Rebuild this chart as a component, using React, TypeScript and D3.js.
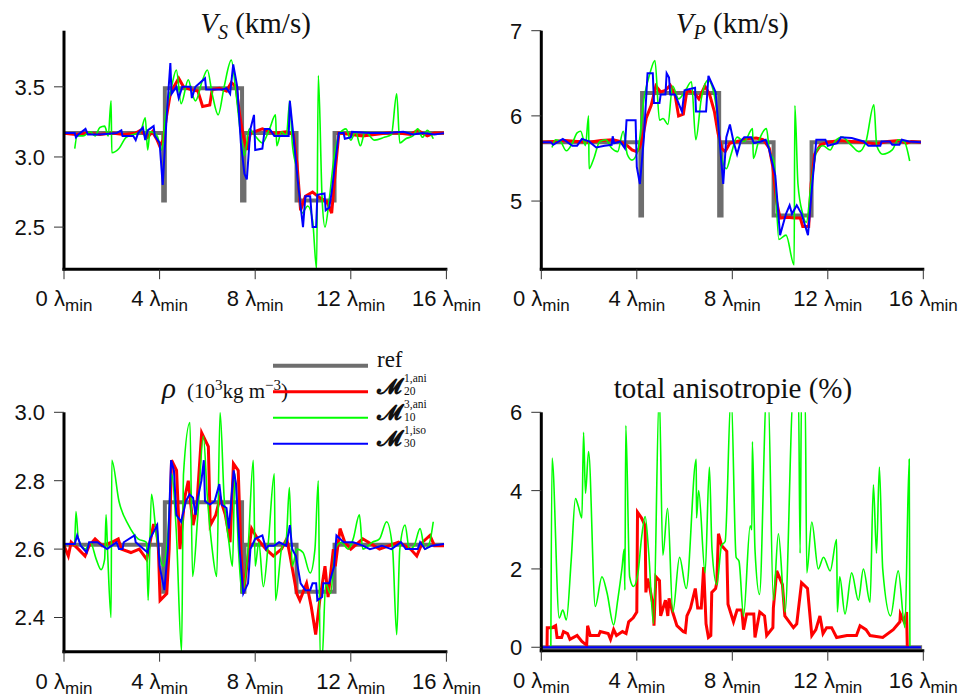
import React from 'react';
import * as d3 from 'd3';

type Pt = [number, number];

// ---------- DATA ----------
const xTicks = [0, 4, 8, 12, 16];
const xTickLabels = ['0', '4', '8', '12', '16'];

const refX = [0, 4.15, 4.22, 7.45, 7.55, 9.73, 11.32, 15.9];
const vsRefY = [3.17, 2.69, 3.49, 2.69, 3.17, 2.69, 3.17, 3.17];
const vpRefY = [5.69, 4.83, 6.27, 4.83, 5.69, 4.83, 5.69, 5.69];
const rhoRefY = [2.613, 2.475, 2.737, 2.475, 2.613, 2.475, 2.613, 2.613];
const anisoRefX = [0, 15.95];
const anisoRefY = [0, 0];

const vsRed: Pt[] = [[0,3.17],[0.5,3.16],[1.0,3.17],[1.5,3.16],[2.0,3.17],[2.5,3.16],[3.0,3.17],[3.2,3.19],[3.5,3.14],[3.7,3.18],[3.9,3.12],[4.0,3.08],[4.15,3.12],[4.3,3.3],[4.45,3.45],[4.6,3.5],[4.8,3.56],[5.0,3.5],[5.3,3.48],[5.6,3.47],[5.8,3.36],[6.1,3.37],[6.2,3.48],[6.5,3.49],[6.8,3.47],[7.0,3.53],[7.2,3.5],[7.35,3.3],[7.5,3.15],[7.65,3.05],[7.8,3.17],[8.3,3.2],[8.8,3.17],[9.3,3.18],[9.6,3.16],[9.75,2.95],[9.9,2.62],[10.1,2.72],[10.4,2.75],[10.7,2.71],[11.0,2.68],[11.2,2.6],[11.35,2.9],[11.5,3.17],[12,3.16],[12.5,3.15],[13,3.16],[13.5,3.17],[14,3.17],[14.5,3.16],[14.8,3.19],[15.2,3.15],[15.5,3.17],[15.9,3.17]];
const vsGreen: Pt[] = [[0.45,3.06],[0.55,3.15],[0.8,3.15],[1.1,3.18],[1.3,3.15],[1.5,3.21],[1.7,3.22],[1.85,3.15],[1.97,3.4],[2.0,3.03],[2.3,3.06],[2.6,3.14],[2.9,3.16],[3.2,3.18],[3.4,3.28],[3.5,3.05],[3.6,3.18],[3.9,3.15],[4.08,3.05],[4.25,3.3],[4.5,3.5],[4.7,3.62],[4.9,3.38],[5.2,3.55],[5.35,3.46],[5.5,3.4],[5.8,3.55],[6.0,3.62],[6.2,3.45],[6.45,3.3],[6.7,3.5],[7.0,3.69],[7.2,3.45],[7.4,3.15],[7.55,3.01],[7.75,3.2],[8.0,3.15],[8.3,3.1],[8.6,3.2],[8.85,3.3],[8.9,3.08],[9.1,3.18],[9.3,3.15],[9.45,3.4],[9.55,3.1],[9.75,2.9],[9.95,2.6],[10.2,2.65],[10.4,2.55],[10.57,2.2],[10.64,3.58],[10.8,2.7],[10.92,2.5],[11.1,2.7],[11.3,3.0],[11.55,3.17],[11.8,3.2],[12.0,3.12],[12.2,3.18],[12.4,3.08],[12.6,3.18],[13.0,3.12],[13.4,3.14],[13.7,3.16],[13.92,3.45],[14.05,3.1],[14.3,3.13],[14.6,3.15],[14.8,3.2],[15.0,3.14],[15.2,3.19],[15.45,3.13]];
const vsBlue: Pt[] = [[0,3.17],[0.45,3.17],[0.5,3.14],[0.6,3.16],[0.9,3.2],[1.0,3.16],[1.5,3.16],[2.2,3.17],[2.4,3.19],[2.45,3.15],[2.9,3.15],[3.0,3.12],[3.1,3.17],[3.3,3.21],[3.4,3.12],[3.5,3.19],[3.75,3.22],[3.8,3.15],[4.0,3.1],[4.13,2.8],[4.3,3.3],[4.45,3.67],[4.5,3.45],[4.7,3.5],[4.8,3.42],[4.95,3.5],[5.3,3.5],[5.35,3.42],[5.5,3.5],[5.9,3.56],[5.95,3.48],[6.6,3.48],[6.8,3.49],[6.95,3.45],[7.08,3.66],[7.25,3.5],[7.4,3.1],[7.55,2.88],[7.65,2.84],[7.8,3.2],[7.95,3.3],[8.0,3.05],[8.3,3.06],[8.4,3.2],[8.6,3.2],[8.8,3.15],[9.4,3.15],[9.45,3.4],[9.6,3.15],[9.8,2.8],[10.0,2.5],[10.1,2.72],[10.3,2.72],[10.4,2.5],[10.55,2.5],[10.6,2.73],[10.9,2.74],[10.95,2.62],[11.1,2.64],[11.2,2.75],[11.5,3.17],[11.7,3.17],[11.75,3.13],[12.0,3.14],[12.05,3.18],[12.8,3.17],[13.5,3.17],[14.2,3.18],[14.6,3.16],[15.0,3.17],[15.5,3.16],[15.9,3.17]];

const vpRed: Pt[] = [[0,5.69],[0.5,5.7],[1.0,5.71],[1.5,5.7],[2.0,5.69],[2.5,5.71],[3.0,5.72],[3.3,5.7],[3.6,5.65],[3.8,5.6],[4.0,5.58],[4.1,5.62],[4.25,5.75],[4.4,5.98],[4.6,6.12],[4.8,6.35],[5.0,6.28],[5.2,6.3],[5.4,6.36],[5.6,6.25],[5.75,6.0],[5.95,6.02],[6.1,6.3],[6.4,6.27],[6.6,6.2],[6.85,6.35],[7.05,6.25],[7.25,6.05],[7.4,5.8],[7.55,5.62],[7.7,5.58],[7.9,5.68],[8.2,5.7],[8.6,5.73],[9.0,5.74],[9.3,5.72],[9.55,5.62],[9.7,5.4],[9.85,5.0],[10.0,4.8],[10.3,4.81],[10.6,4.8],[10.85,4.8],[10.95,4.7],[11.2,4.7],[11.3,5.2],[11.45,5.55],[11.7,5.66],[12.0,5.69],[12.5,5.71],[13.0,5.7],[13.5,5.69],[14.0,5.67],[14.5,5.7],[15.0,5.71],[15.3,5.68],[15.5,5.7],[15.9,5.69]];
const vpGreen: Pt[] = [[0.45,5.63],[0.6,5.72],[0.8,5.7],[1.05,5.59],[1.3,5.68],[1.5,5.8],[1.65,5.82],[1.85,5.65],[1.98,6.0],[2.0,5.38],[2.2,5.5],[2.45,5.7],[2.7,5.72],[2.95,5.62],[3.2,5.58],[3.43,5.82],[3.6,5.55],[3.8,5.48],[4.05,5.6],[4.3,6.2],[4.55,6.5],[4.76,6.65],[4.95,5.95],[5.1,5.97],[5.3,5.9],[5.5,6.35],[5.75,6.2],[6.0,6.28],[6.29,6.4],[6.47,5.72],[6.7,6.2],[6.99,6.42],[7.15,6.35],[7.35,6.05],[7.5,5.6],[7.75,5.38],[7.95,5.55],[8.2,5.75],[8.5,5.7],[8.85,5.85],[8.88,5.5],[9.1,5.7],[9.43,5.85],[9.55,5.6],[9.75,5.45],[9.95,4.55],[10.25,4.6],[10.59,4.25],[10.62,6.12],[10.75,5.2],[10.95,4.85],[11.1,4.75],[11.3,5.2],[11.55,5.6],[11.8,5.65],[12.1,5.6],[12.3,5.7],[12.6,5.75],[13.0,5.65],[13.3,5.58],[13.6,5.7],[13.93,6.13],[14.05,5.65],[14.3,5.55],[14.7,5.6],[14.95,5.72],[15.2,5.7],[15.43,5.47]];
const vpBlue: Pt[] = [[0,5.69],[0.4,5.69],[0.5,5.66],[0.9,5.73],[1.05,5.7],[1.3,5.65],[1.5,5.65],[1.7,5.73],[2.0,5.7],[2.3,5.63],[2.65,5.65],[2.95,5.66],[2.99,5.76],[3.05,5.68],[3.3,5.7],[3.5,5.62],[3.57,5.95],[3.95,5.95],[4.0,5.4],[4.13,5.2],[4.3,5.75],[4.45,6.5],[4.67,6.5],[4.72,6.15],[4.95,6.15],[5.0,6.25],[5.2,6.25],[5.25,6.5],[5.35,6.45],[5.4,6.25],[5.6,6.25],[5.89,6.05],[6.0,6.3],[6.44,6.33],[6.48,6.05],[6.9,6.05],[7.0,6.47],[7.3,6.28],[7.5,5.6],[7.62,5.2],[7.75,5.75],[7.9,5.9],[8.05,5.7],[8.2,5.55],[8.35,5.7],[8.5,5.75],[8.8,5.75],[8.9,5.68],[9.2,5.7],[9.4,5.72],[9.55,5.6],[9.8,5.3],[10.0,4.6],[10.25,4.85],[10.4,4.95],[10.5,4.85],[10.7,4.95],[10.9,4.85],[11.17,4.6],[11.35,5.2],[11.52,5.72],[11.9,5.72],[12.0,5.65],[12.4,5.68],[12.55,5.75],[13.0,5.74],[13.5,5.7],[13.7,5.65],[14.2,5.65],[14.25,5.7],[14.6,5.7],[14.7,5.66],[15.0,5.66],[15.1,5.72],[15.4,5.7],[15.9,5.69]];

const rhoRed: Pt[] = [[0,2.61],[0.18,2.58],[0.3,2.62],[0.6,2.6],[0.88,2.58],[1.05,2.61],[1.3,2.63],[1.6,2.61],[2.0,2.62],[2.27,2.63],[2.4,2.6],[2.8,2.59],[3.15,2.6],[3.46,2.57],[3.6,2.62],[3.74,2.67],[3.85,2.67],[3.95,2.6],[4.02,2.45],[4.3,2.47],[4.4,2.6],[4.5,2.86],[4.71,2.83],[4.85,2.6],[5.05,2.75],[5.2,2.8],[5.4,2.67],[5.55,2.72],[5.76,2.94],[6.04,2.9],[6.12,2.67],[6.35,2.7],[6.53,2.75],[6.75,2.7],[6.95,2.62],[7.09,2.85],[7.29,2.83],[7.4,2.6],[7.5,2.47],[7.65,2.55],[7.85,2.66],[8.1,2.63],[8.45,2.6],[8.76,2.58],[9.1,2.6],[9.32,2.63],[9.46,2.58],[9.74,2.47],[9.87,2.45],[10.15,2.5],[10.35,2.43],[10.53,2.35],[10.7,2.45],[10.92,2.55],[11.05,2.46],[11.27,2.6],[11.35,2.55],[11.55,2.66],[11.75,2.62],[12.0,2.6],[12.5,2.63],[13.2,2.6],[14.0,2.62],[14.5,2.6],[14.76,2.58],[15.0,2.62],[15.31,2.64],[15.5,2.61],[15.9,2.61]];
const rhoGreen: Pt[] = [[0.45,2.61],[0.5,2.71],[0.6,2.63],[0.9,2.6],[1.1,2.62],[1.35,2.57],[1.55,2.54],[1.7,2.57],[1.76,2.7],[1.82,2.6],[1.97,2.4],[2.0,2.86],[2.3,2.74],[2.7,2.67],[3.1,2.63],[3.45,2.62],[3.52,2.45],[3.66,2.76],[3.85,2.65],[4.0,2.58],[4.15,2.55],[4.35,2.65],[4.5,2.82],[4.7,2.65],[4.92,2.3],[5.0,2.82],[5.27,2.97],[5.38,2.52],[5.6,2.7],[5.83,2.93],[6.0,2.75],[6.2,2.6],[6.39,2.52],[6.53,3.0],[6.7,2.75],[6.9,2.62],[7.05,2.55],[7.15,2.82],[7.3,2.6],[7.45,2.47],[7.7,2.6],[7.92,2.86],[8.0,2.55],[8.15,2.62],[8.34,2.49],[8.55,2.62],[8.8,2.82],[8.85,2.45],[9.1,2.6],[9.3,2.63],[9.43,2.78],[9.55,2.55],[9.75,2.6],[10.0,2.59],[10.3,2.53],[10.5,2.6],[10.64,2.8],[10.72,2.28],[10.8,2.28],[10.95,2.5],[11.15,2.47],[11.35,2.6],[11.6,2.62],[11.9,2.6],[12.1,2.63],[12.36,2.7],[12.5,2.6],[12.9,2.62],[13.2,2.63],[13.5,2.68],[13.75,2.6],[13.92,2.35],[14.05,2.6],[14.27,2.67],[14.45,2.6],[14.65,2.61],[14.9,2.66],[15.1,2.6],[15.3,2.62],[15.45,2.68]];
const rhoBlue: Pt[] = [[0,2.615],[0.45,2.615],[0.55,2.64],[0.7,2.61],[0.95,2.59],[1.05,2.62],[1.4,2.62],[1.6,2.61],[1.8,2.6],[2.0,2.61],[2.2,2.62],[2.3,2.6],[2.45,2.6],[2.5,2.62],[2.95,2.64],[3.0,2.62],[3.5,2.59],[3.6,2.63],[3.9,2.67],[4.0,2.55],[4.2,2.48],[4.35,2.6],[4.48,2.86],[4.6,2.83],[4.7,2.7],[4.9,2.68],[5.1,2.74],[5.25,2.76],[5.4,2.75],[5.5,2.7],[5.6,2.75],[5.75,2.8],[5.85,2.86],[5.9,2.74],[6.1,2.73],[6.3,2.74],[6.5,2.79],[6.6,2.73],[6.8,2.72],[6.9,2.66],[7.1,2.83],[7.2,2.79],[7.35,2.6],[7.5,2.47],[7.7,2.5],[7.8,2.6],[8.0,2.63],[8.3,2.64],[8.45,2.6],[8.55,2.61],[8.8,2.61],[9.0,2.62],[9.3,2.61],[9.45,2.67],[9.55,2.6],[9.7,2.58],[9.9,2.5],[10.1,2.48],[10.3,2.48],[10.4,2.5],[10.55,2.5],[10.6,2.45],[10.8,2.46],[10.85,2.5],[11.1,2.5],[11.3,2.55],[11.4,2.64],[11.7,2.62],[12.1,2.62],[12.5,2.61],[12.8,2.6],[13.3,2.61],[13.7,2.6],[14.1,2.62],[14.3,2.6],[14.8,2.6],[14.9,2.62],[15.1,2.6],[15.4,2.61],[15.9,2.615]];

const anisoRed: Pt[] = [[0.24,0],[0.25,0.5],[0.45,0.5],[0.6,0.55],[0.66,0.25],[0.85,0.25],[0.93,0.4],[1.1,0.35],[1.2,0.2],[1.5,0.3],[1.7,0.15],[1.9,0.05],[1.94,0.55],[2.05,0.3],[2.4,0.3],[2.47,0.4],[2.8,0.35],[2.9,0.2],[3.03,0.45],[3.15,0.3],[3.4,0.4],[3.55,0.35],[3.66,0.65],[3.85,0.75],[4.0,0.9],[4.03,3.45],[4.2,3.3],[4.35,3.1],[4.38,1.4],[4.45,1.75],[4.55,1.5],[4.7,1.0],[4.72,0.55],[4.8,1.8],[4.95,1.7],[5.0,0.8],[5.2,1.2],[5.3,0.8],[5.35,1.25],[5.5,0.9],[5.68,0.55],[5.95,0.4],[6.03,0.38],[6.1,0.8],[6.25,1.0],[6.45,1.5],[6.55,1.0],[6.7,1.0],[6.8,2.05],[6.9,0.6],[7.0,0.25],[7.1,0.3],[7.14,1.4],[7.3,1.5],[7.35,1.65],[7.42,2.9],[7.55,2.6],[7.77,2.45],[7.82,1.1],[8.05,0.65],[8.2,0.95],[8.4,0.95],[8.47,0.45],[8.6,0.85],[8.9,0.85],[8.95,0.25],[9.15,0.9],[9.35,0.8],[9.44,0.3],[9.7,0.5],[9.72,1.0],[9.86,1.95],[10.1,1.6],[10.2,0.8],[10.56,0.5],[10.7,0.6],[10.9,1.65],[11.15,1.5],[11.33,0.3],[11.5,0.45],[11.67,0.8],[11.8,0.35],[11.95,0.5],[12.16,0.5],[12.37,0.25],[12.8,0.3],[13.2,0.3],[13.35,0.55],[13.6,0.45],[13.77,0.3],[14.3,0.25],[14.74,0.45],[15.02,0.65],[15.04,0.85],[15.2,0.65],[15.3,0.9],[15.33,0]];
const anisoGreen: Pt[] = [[0.4,0],[0.45,4.83],[0.75,0.75],[0.9,0.95],[1.05,0.7],[1.25,2.2],[1.43,3.8],[1.55,3.6],[1.7,3.3],[1.77,5.49],[1.85,3.93],[1.98,5.0],[2.26,1.04],[2.54,1.8],[2.75,1.4],[3.03,0.57],[3.2,1.2],[3.38,2.02],[3.47,2.5],[3.5,1.46],[3.54,5.66],[3.7,1.8],[3.86,1.55],[4.05,1.9],[4.2,2.8],[4.35,3.34],[4.5,2.4],[4.7,0.6],[4.94,6.5],[5.09,2.35],[5.29,3.55],[5.51,0.9],[5.79,2.3],[6.07,1.5],[6.49,4.8],[6.5,3.3],[6.59,4.0],[6.86,1.9],[7.04,4.6],[7.15,2.5],[7.35,1.6],[7.55,2.6],[7.7,2.7],[7.95,6.5],[8.16,2.3],[8.28,2.2],[8.47,0.8],[8.75,3.1],[8.82,3.0],[8.84,5.25],[8.95,2.5],[9.14,1.35],[9.44,6.5],[9.5,6.5],[9.72,1.2],[9.93,2.9],[10.21,0.9],[10.56,6.5],[10.77,6.5],[10.84,2.4],[10.9,6.5],[11.05,6.5],[11.12,1.9],[11.33,3.2],[11.6,2.0],[11.82,2.3],[12.1,1.95],[12.37,2.75],[12.4,0.9],[12.5,1.8],[12.72,0.85],[13.0,1.9],[13.28,1.2],[13.49,2.0],[13.77,1.15],[13.91,4.15],[14.04,2.4],[14.16,4.6],[14.3,2.0],[14.63,0.8],[14.95,1.95],[15.23,0.5],[15.41,4.8],[15.44,0]];
const anisoBlue: Pt[] = [[0,0],[15.9,0]];

// ---------- STYLE ----------
const C_REF = '#6e6e6e';
const C_RED = '#ff0000';
const C_GREEN = '#00ff00';
const C_BLUE = '#0000ff';
const SANS = '"Liberation Sans", Arial, Helvetica, sans-serif';
const SERIF = '"Liberation Serif", "Times New Roman", serif';

type PanelCfg = {
  id: string;
  x0: number; x1: number; yTop: number; yBot: number;
  yDom: [number, number];
  yTicks: number[]; yFmt: (v: number) => string;
  ref: Pt[]; red: Pt[]; green: Pt[]; blue: Pt[];
};

const zip = (xs: number[], ys: number[]): Pt[] => xs.map((x, i) => [x, ys[i]]);

const panels: PanelCfg[] = [
  { id: 'vs', x0: 64, x1: 446.4, yTop: 30.7, yBot: 269.2, yDom: [2.2, 3.9], yTicks: [2.5, 3.0, 3.5], yFmt: d3.format('.1f'),
    ref: zip(refX, vsRefY), red: vsRed, green: vsGreen, blue: vsBlue },
  { id: 'vp', x0: 541.3, x1: 923.3, yTop: 30.7, yBot: 269.2, yDom: [4.2, 7], yTicks: [5, 6, 7], yFmt: d3.format('d'),
    ref: zip(refX, vpRefY), red: vpRed, green: vpGreen, blue: vpBlue },
  { id: 'rho', x0: 64, x1: 446.4, yTop: 412.3, yBot: 651.7, yDom: [2.3, 3.0], yTicks: [2.4, 2.6, 2.8, 3.0], yFmt: d3.format('.1f'),
    ref: zip(refX, rhoRefY), red: rhoRed, green: rhoGreen, blue: rhoBlue },
  { id: 'an', x0: 541.3, x1: 923.3, yTop: 412.3, yBot: 650.7, yDom: [-0.088, 6], yTicks: [0, 2, 4, 6], yFmt: d3.format('d'),
    ref: zip(anisoRefX, anisoRefY), red: anisoRed, green: anisoGreen, blue: anisoBlue },
];

function Panel({ p }: { p: PanelCfg }) {
  const x = d3.scaleLinear().domain([0, 16]).range([p.x0, p.x1]);
  const y = d3.scaleLinear().domain(p.yDom).range([p.yBot, p.yTop]);
  const line = d3.line<Pt>().x(d => x(d[0])).y(d => y(d[1]));
  const smooth = d3.line<Pt>().x(d => x(d[0])).y(d => y(d[1])).curve(d3.curveMonotoneX);
  const step = d3.line<Pt>().x(d => x(d[0])).y(d => y(d[1])).curve(d3.curveStepAfter);
  const clip = `clip-${p.id}`;
  return (
    <g>
      <defs>
        <clipPath id={clip}>
          <rect x={p.x0} y={p.yTop} width={p.x1 - p.x0 + 2} height={p.yBot - p.yTop} />
        </clipPath>
      </defs>
      <g clipPath={`url(#${clip})`} fill="none" strokeLinejoin="miter">
        <path d={step(p.ref) || ''} stroke={C_REF} strokeWidth={4} />
        <path d={line(p.red) || ''} stroke={C_RED} strokeWidth={3} />
        <path d={smooth(p.green) || ''} stroke={C_GREEN} strokeWidth={1.6} />
        <path d={line(p.blue) || ''} stroke={C_BLUE} strokeWidth={2} />
      </g>
      {/* axes */}
      <line x1={p.x0} x2={p.x0} y1={p.yTop} y2={p.yBot + 1.5} stroke="#000" strokeWidth={3} />
      <line x1={p.x0 - 1.5} x2={p.x1 + 1} y1={p.yBot} y2={p.yBot} stroke="#000" strokeWidth={3} />
      {xTicks.map((t, i) => (
        <g key={'x' + t}>
          <line x1={x(t)} x2={x(t)} y1={p.yBot} y2={p.yBot + 10} stroke="#333" strokeWidth={1} />
          <text x={x(t)} y={p.yBot + 37} textAnchor="middle" fontFamily={SANS} fontSize={22} fill="#111">
            <tspan>{xTickLabels[i]} λ</tspan>
            <tspan fontSize={17} dy={5}>min</tspan>
          </text>
        </g>
      ))}
      {p.yTicks.map(t => (
        <g key={'y' + t}>
          <line x1={p.x0 - 10} x2={p.x0} y1={y(t)} y2={y(t)} stroke="#333" strokeWidth={1} />
          <text x={p.x0 - 19} y={y(t)} dy="0.36em" textAnchor="end" fontFamily={SANS} fontSize={22} fill="#111">
            {p.yFmt(t)}
          </text>
        </g>
      ))}
    </g>
  );
}

const legendItems = [
  { color: C_REF, width: 4, main: 'ref', sup: '', sub: '' },
  { color: C_RED, width: 3, main: '𝓜', sup: '1,ani', sub: '20' },
  { color: C_GREEN, width: 2, main: '𝓜', sup: '3,ani', sub: '10' },
  { color: C_BLUE, width: 2, main: '𝓜', sup: '1,iso', sub: '30' },
];

export default function App() {
  return (
    <svg width={960} height={697} style={{ position: 'absolute', left: 0, top: 0, background: '#fff' }}>
      <rect width={960} height={697} fill="#fff" />
      {panels.map(p => <Panel key={p.id} p={p} />)}

      {/* titles */}
      <text x={255.5} y={33} textAnchor="middle" fontFamily={SERIF} fontSize={29} fill="#111">
        <tspan fontStyle="italic">V</tspan>
        <tspan fontStyle="italic" fontSize={20} dy={6}>S</tspan>
        <tspan dy={-6}> (km/s)</tspan>
      </text>
      <text x={732.3} y={33} textAnchor="middle" fontFamily={SERIF} fontSize={29} fill="#111">
        <tspan fontStyle="italic">V</tspan>
        <tspan fontStyle="italic" fontSize={20} dy={6}>P</tspan>
        <tspan dy={-6}> (km/s)</tspan>
      </text>
      <text x={162} y={398} fontFamily={SERIF} fontSize={21} fill="#111">
        <tspan fontStyle="italic" fontSize={29}>ρ</tspan>
        <tspan dx={11}>(10</tspan>
        <tspan fontSize={15} dy={-8}>3</tspan>
        <tspan dy={8}>kg m</tspan>
        <tspan fontSize={15} dy={-8}>−3</tspan>
        <tspan dy={8}>)</tspan>
      </text>
      <text x={733} y={398} textAnchor="middle" fontFamily={SERIF} fontSize={29} fill="#111">
        total anisotropie (%)
      </text>

      {/* legend */}
      {legendItems.map((it, i) => {
        const ly = 365.7 + i * 26;
        return (
          <g key={'lg' + i}>
            <line x1={273} x2={368} y1={ly} y2={ly} stroke={it.color} strokeWidth={it.width} />
            {it.sup === '' ? (
              <text x={377} y={ly + 1} fontFamily={SERIF} fontSize={23} fill="#111">{it.main}</text>
            ) : (
              <g>
                <text x={377} y={ly + 2.5} fontFamily={'"DejaVu Serif", "DejaVu Sans", serif'} fontSize={22} fontWeight="bold" fill="#111">{it.main}</text>
                <text x={404} y={ly - 10} fontFamily={SERIF} fontSize={11.5} fill="#111">{it.sup}</text>
                <text x={404} y={ly + 3} fontFamily={SERIF} fontSize={11.5} fill="#111">{it.sub}</text>
              </g>
            )}
          </g>
        );
      })}
    </svg>
  );
}
